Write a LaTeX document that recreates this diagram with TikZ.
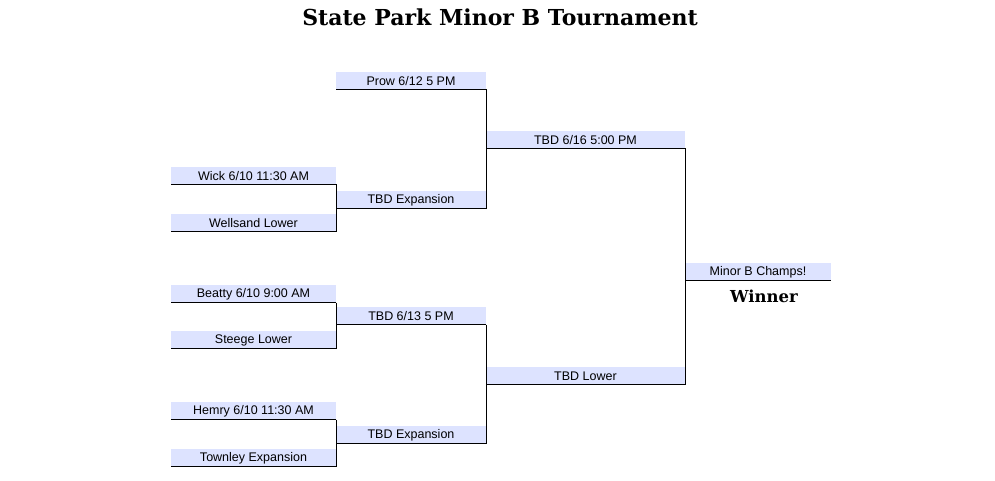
\documentclass[tikz,border=0pt]{standalone}
\usepackage{fontspec}
\setmainfont{Liberation Sans}
\newfontfamily\titlefont{DejaVu Serif}
\definecolor{cellblue}{HTML}{DDE3FF}
\begin{document}
\begin{tikzpicture}[x=1pt,y=-1pt,
  lnk/.style={draw=black,line width=0.8pt}]
\useasboundingbox (0,0) rectangle (995,481);
\node[font=\titlefont\bfseries\fontsize{22}{24}\selectfont] (title) at (500,17) {State Park Minor B Tournament};
\foreach \n/\xa/\xb/\yt/\t in {
  wick/171/336/167/{Wick 6/10 11:30 AM},
  well/171/336/214/{Wellsand Lower},
  beat/171/336/285/{Beatty 6/10 9:00 AM},
  stee/171/336/331/{Steege Lower},
  hemr/171/336/402/{Hemry 6/10 11:30 AM},
  town/171/336/449/{Townley Expansion},
  prow/336/486/72/{Prow 6/12 5 PM},
  exa/336/486/191/{TBD Expansion},
  tbdb/336/486/307/{TBD 6/13 5 PM},
  exb/336/486/426/{TBD Expansion},
  semi/486/685/131/{TBD 6/16 5:00 PM},
  low/486/685/367/{TBD Lower},
  fin/685/831/263/{Minor B Champs!}}{
  \fill[cellblue] (\xa,\yt) rectangle (\xb,\yt+17);
  \node (\n) at ({(\xa+\xb)/2},\yt+9) {\fontsize{12.5}{13}\selectfont\t};
  \coordinate (\n L) at (\xa,\yt+17.5);
  \coordinate (\n R) at (\xb,\yt+17.5);
  \draw[lnk] (\n L) -- (\n R);
}
\draw[lnk] (wickR) -- (wellR);
\draw[lnk] (beatR) -- (steeR);
\draw[lnk] (hemrR) -- (townR);
\draw[lnk] (prowR) -- (exaR);
\draw[lnk] (tbdbR) -- (exbR);
\draw[lnk] (semiR) -- (lowR);
\node[font=\titlefont\bfseries\fontsize{16.5}{18}\selectfont] (win) at (764,296) {Winner};
\end{tikzpicture}
\end{document}
